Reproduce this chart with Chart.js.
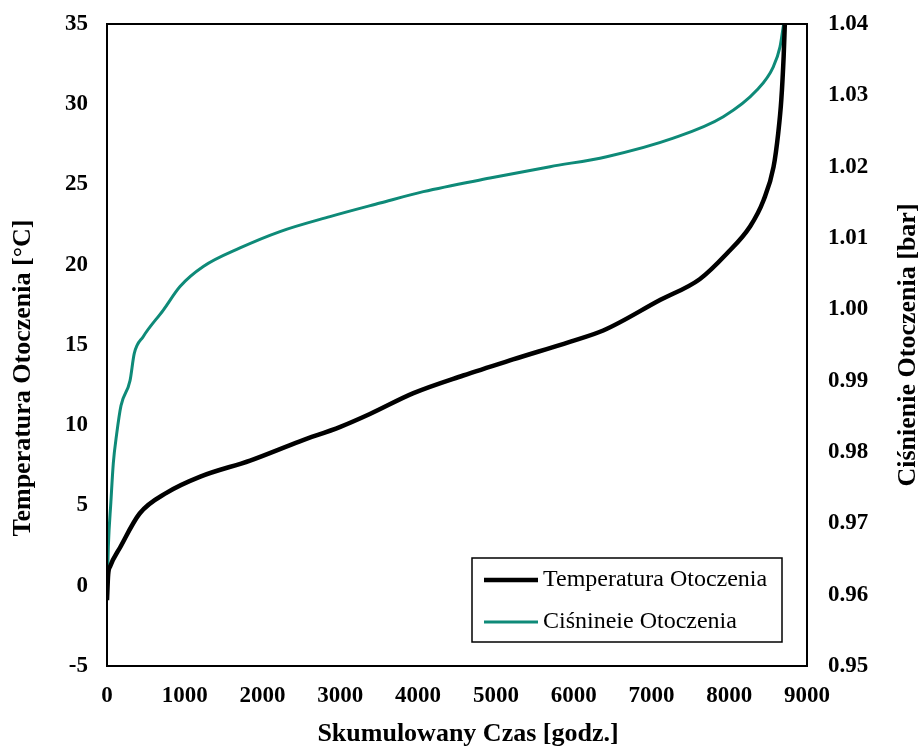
<!DOCTYPE html>
<html>
<head>
<meta charset="utf-8">
<title>Temperatura i ciśnienie otoczenia</title>
<script src="https://cdn.jsdelivr.net/npm/chart.js@4.4.1/dist/chart.umd.min.js"></script>
<style>
  html, body { margin: 0; padding: 0; background: #fff; }
  #wrap { width: 924px; height: 746px; }
</style>
</head>
<body>
<div id="wrap"><canvas id="chart" width="924" height="746"></canvas></div>
<script>
// cumulative hours vs. ambient temperature (sorted)
const tempHours = [0, 15, 40, 170, 420, 770, 1200, 1840, 2480, 3000, 3380, 3940, 4580, 5220, 5950, 6380, 7110, 7620, 7970, 8270, 8440, 8570, 8630, 8670, 8700, 8715];
const tempValues = [-0.9, 0.7, 1.2, 2.4, 4.5, 5.8, 6.8, 7.8, 9.0, 9.9, 10.7, 12.0, 13.1, 14.1, 15.2, 15.9, 17.8, 19.1, 20.7, 22.4, 24.0, 26.1, 28.2, 30.3, 33.0, 35.0];

// cumulative hours vs. ambient pressure (sorted)
const pressHours = [0, 17, 50, 81, 124, 180, 296, 350, 467, 724, 939, 1238, 1710, 2224, 2867, 3510, 4067, 4924, 5696, 6424, 7281, 7924, 8353, 8567, 8653, 8700];
const pressValues = [0.9597, 0.9667, 0.973, 0.9784, 0.9825, 0.9865, 0.9900, 0.9938, 0.9962, 0.9999, 1.0032, 1.0060, 1.0086, 1.0109, 1.0130, 1.0149, 1.0165, 1.0184, 1.0200, 1.0214, 1.0240, 1.0270, 1.0307, 1.0340, 1.0368, 1.0400];

const xTicks = [0, 1000, 2000, 3000, 4000, 5000, 6000, 7000, 8000, 9000];
const tempTicks = [-5, 0, 5, 10, 15, 20, 25, 30, 35];
const pressTicks = [0.95, 0.96, 0.97, 0.98, 0.99, 1.00, 1.01, 1.02, 1.03, 1.04];

const seriesNames = ["Temperatura Otoczenia", "Ciśnineie Otoczenia"];
const xTitle = "Skumulowany Czas [godz.]";
const yTitle = "Temperatura Otoczenia [°C]";
const y1Title = "Ciśnienie Otoczenia [bar]";

const SERIF = '"Liberation Serif", "Times New Roman", serif';
const GREEN = "#0E8A78";

const toPoints = (xs, ys) => xs.map((x, i) => ({ x: x, y: ys[i] }));
const setTicks = (list) => (scale) => { scale.ticks = list.map((v) => ({ value: v })); };
const fixWidth = (w) => (s) => { s.width = w; s.paddingTop = 0; s.paddingBottom = 0; };

// frame, axis titles and boxed legend
const decorations = {
  id: "decorations",
  afterDraw(chart) {
    const ctx = chart.ctx;
    const a = chart.chartArea;
    ctx.save();
    ctx.strokeStyle = "#000";
    ctx.lineWidth = 2;
    ctx.strokeRect(a.left, a.top, a.right - a.left, a.bottom - a.top);

    ctx.fillStyle = "#000";
    ctx.font = "bold 26px " + SERIF;
    ctx.textAlign = "center";
    ctx.textBaseline = "middle";
    ctx.fillText(xTitle, 468, 734);

    ctx.save();
    ctx.translate(23, 378);
    ctx.rotate(-Math.PI / 2);
    ctx.fillText(yTitle, 0, 0);
    ctx.restore();

    ctx.save();
    ctx.translate(908, 345);
    ctx.rotate(-Math.PI / 2);
    ctx.fillText(y1Title, 0, 0);
    ctx.restore();

    // legend box
    const bx = 472, by = 558, bw = 310, bh = 84;
    ctx.fillStyle = "#fff";
    ctx.fillRect(bx, by, bw, bh);
    ctx.lineWidth = 1.5;
    ctx.strokeStyle = "#000";
    ctx.strokeRect(bx, by, bw, bh);
    ctx.font = "24px " + SERIF;
    ctx.textAlign = "left";
    chart.data.datasets.forEach((ds, i) => {
      const yy = by + 22 + i * 42;
      ctx.strokeStyle = ds.borderColor;
      ctx.lineWidth = ds.borderWidth;
      ctx.beginPath();
      ctx.moveTo(bx + 12, yy);
      ctx.lineTo(bx + 66, yy);
      ctx.stroke();
      ctx.fillStyle = "#000";
      ctx.fillText(ds.label, bx + 71, yy);
    });
    ctx.restore();
  }
};

new Chart(document.getElementById("chart"), {
  type: "scatter",
  data: {
    datasets: [
      {
        label: seriesNames[0],
        data: toPoints(tempHours, tempValues),
        yAxisID: "y",
        showLine: true,
        borderColor: "#000",
        borderWidth: 4.5,
        pointRadius: 0,
        cubicInterpolationMode: "monotone"
      },
      {
        label: seriesNames[1],
        data: toPoints(pressHours, pressValues),
        yAxisID: "y1",
        showLine: true,
        borderColor: GREEN,
        borderWidth: 3,
        pointRadius: 0,
        cubicInterpolationMode: "monotone"
      }
    ]
  },
  options: {
    responsive: false,
    animation: false,
    layout: { padding: { top: 24, left: 0, right: 0, bottom: 0 } },
    plugins: { legend: { display: false }, tooltip: { enabled: false } },
    scales: {
      x: {
        type: "linear",
        min: 0,
        max: 9000,
        afterBuildTicks: setTicks(xTicks),
        afterFit: (s) => { s.height = 80; s.paddingLeft = 0; s.paddingRight = 0; },
        grid: { display: false, drawTicks: false },
        border: { display: true, color: "#000", width: 2 },
        ticks: {
          color: "#000",
          padding: 16,
          maxRotation: 0,
          font: { family: SERIF, size: 23, weight: "bold" },
          callback: (v) => String(v)
        }
      },
      y: {
        position: "left",
        min: -5,
        max: 35,
        afterBuildTicks: setTicks(tempTicks),
        afterFit: fixWidth(107),
        grid: { display: false, drawTicks: false },
        border: { display: true, color: "#000", width: 2 },
        ticks: {
          color: "#000",
          padding: 19,
          font: { family: SERIF, size: 23, weight: "bold" },
          callback: (v) => String(v)
        }
      },
      y1: {
        position: "right",
        min: 0.95,
        max: 1.04,
        afterBuildTicks: setTicks(pressTicks),
        afterFit: fixWidth(117),
        grid: { display: false, drawTicks: false },
        border: { display: true, color: "#000", width: 2 },
        ticks: {
          color: "#000",
          padding: 21,
          font: { family: SERIF, size: 23, weight: "bold" },
          callback: (v) => v.toFixed(2)
        }
      }
    }
  },
  plugins: [decorations]
});
</script>
</body>
</html>
